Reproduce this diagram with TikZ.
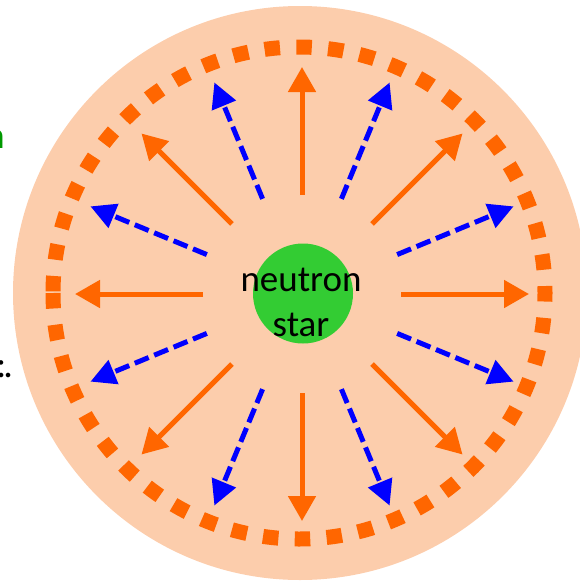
\documentclass[tikz,border=0pt]{standalone}
\usepackage{fontspec}
\setmainfont{Carlito}
\usetikzlibrary{arrows.meta}
\definecolor{peach}{RGB}{252,205,172}
\definecolor{ored}{RGB}{255,102,0}
\definecolor{nblue}{RGB}{0,0,255}
\definecolor{nsgreen}{RGB}{51,204,51}
\definecolor{txtgreen}{RGB}{0,153,0}
\begin{document}
\begin{tikzpicture}[x=1pt,y=-1pt,
  solidarrow/.style={draw=ored, line width=5pt, -{Triangle[length=25pt,width=27pt]}},
  dasharrow/.style={draw=nblue, line width=5pt, dash pattern=on 15pt off 6pt, -{Triangle[length=25pt,width=25pt]}},
  ring/.style={draw=ored, line width=15pt, dash pattern=on 15.5pt off 16.35pt},
  bigtext/.style={font=\fontsize{37}{44.5}\selectfont, align=center, inner sep=0pt},
  fragtext/.style={font=\fontsize{38}{46}\selectfont, anchor=base east, inner sep=0pt}]
\useasboundingbox (0,0) rectangle (579,581);
\fill[peach] (300,293) circle[radius=287];
\coordinate (rc) at (299,293);
\draw[ring] (rc) ++(180:246) arc[start angle=180, end angle=-180, radius=246];
\coordinate (c) at (302,294);
\foreach \a [count=\i] in {0,45,...,315} {
  \coordinate (so\i) at ([shift={(\a:99)}]c);
  \coordinate (to\i) at ([shift={(\a:227)}]c);
  \draw[solidarrow] (so\i) -- (to\i);
}
\foreach \a [count=\i] in {22.5,67.5,...,337.5} {
  \coordinate (sb\i) at ([shift={(\a:103)}]c);
  \coordinate (tb\i) at ([shift={(\a:229)}]c);
  \draw[dasharrow] (sb\i) -- (tb\i);
}
\node[circle, fill=nsgreen, minimum size=100pt, inner sep=0pt] (ns) at (303,293.5) {};
\node[bigtext, anchor=base] (lbl) at (301,336) {neutron\\star};
\node[fragtext, text=txtgreen] (frag1) at (5,148) {n};
\node[fragtext] (frag2) at (13,377) {:\kern-3pt.};
\end{tikzpicture}
\end{document}
